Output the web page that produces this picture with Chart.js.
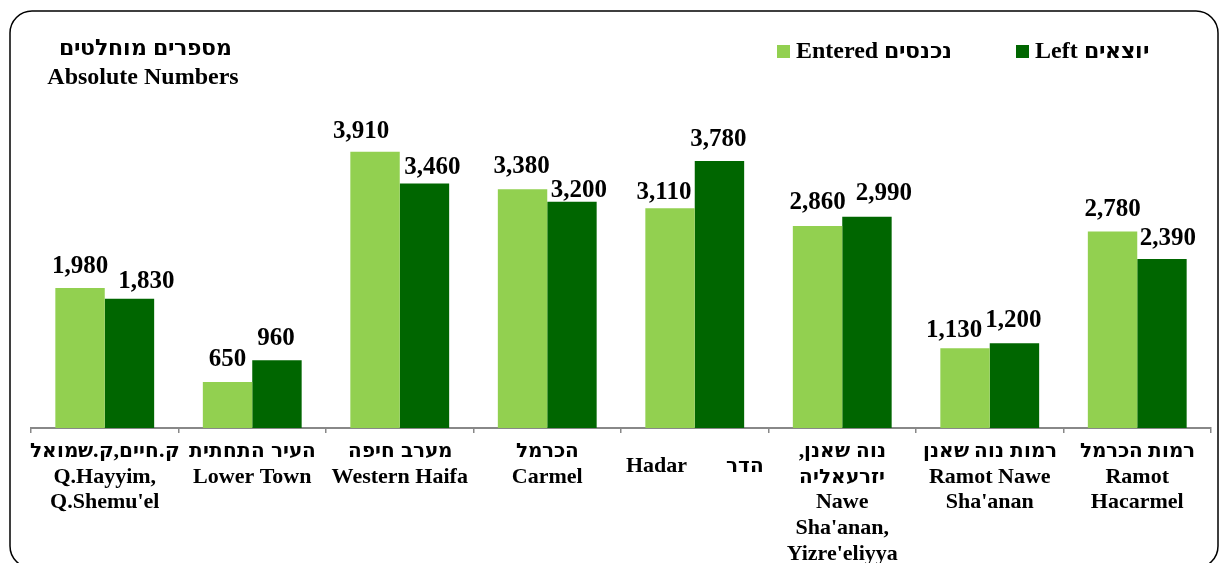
<!DOCTYPE html>
<html>
<head>
<meta charset="utf-8">
<script src="https://cdn.jsdelivr.net/npm/chart.js@4/dist/chart.umd.min.js"></script>
<style>
@font-face {
  font-family: 'HebBold';
  src: local('DejaVu Sans Bold'), local('DejaVuSans-Bold');
  font-weight: bold;
  unicode-range: U+0590-05FF, U+200F, U+FB1D-FB4F;
  size-adjust: 90%;
}
html,body{margin:0;padding:0;background:#fff;}
#wrap{position:relative;width:1220px;height:563px;}
</style>
</head>
<body>
<div id="wrap"><canvas id="c" width="1220" height="563"></canvas></div>
<script>
const categories = [
  ["ק.חיים,ק.שמואל", "Q.Hayyim,", "Q.Shemu'el"],
  ["העיר התחתית", "Lower Town"],
  ["מערב חיפה", "Western Haifa"],
  ["הכרמל", "Carmel"],
  ["Hadar       הדר"],
  ["נוה שאנן,\u200F", "יזרעאליה", "Nawe", "Sha'anan,", "Yizre'eliyya"],
  ["רמות נוה שאנן", "Ramot Nawe", "Sha'anan"],
  ["רמות הכרמל", "Ramot", "Hacarmel"]
];
const entered = [1980, 650, 3910, 3380, 3110, 2860, 1130, 2780];
const left = [1830, 960, 3460, 3200, 3780, 2990, 1200, 2390];
const seriesNames = ["Entered נכנסים", "Left יוצאים"];
const titleLines = ["מספרים מוחלטים", "Absolute Numbers"];

// value-label nudges (dx, height above bar top) as placed in the original
const labelNudgeX = [[0, 0, -14, -1, -6, 0, -11, 0], [17, -1, 8, 7, -1, 17, -1, 6]];
const labelNudgeY = [[23, 24, 22, 24, 17, 25, 19, 24], [19, 23, 17, 13, 23, 25, 24, 22]];

const SERIF = 'HebBold, "Liberation Serif", "Times New Roman", serif';
const LIGHT = '#92D050';
const DARK = '#006600';

const decor = {
  id: 'decor',
  afterDatasetsDraw(chart) {
    const ctx = chart.ctx;
    ctx.save();
    ctx.font = 'bold 25px ' + SERIF;
    ctx.fillStyle = '#000';
    ctx.textAlign = 'center';
    ctx.textBaseline = 'alphabetic';
    chart.data.datasets.forEach((ds, di) => {
      const meta = chart.getDatasetMeta(di);
      meta.data.forEach((bar, i) => {
        ctx.fillText(ds.data[i].toLocaleString('en-US'),
          bar.x + labelNudgeX[di][i], bar.y - labelNudgeY[di][i] + 8);
      });
    });
    ctx.restore();
  },
  afterDraw(chart) {
    const ctx = chart.ctx;
    ctx.save();
    ctx.strokeStyle = '#000';
    ctx.lineWidth = 1.5;
    ctx.beginPath();
    ctx.roundRect(10, 11, 1208, 557, 22);
    ctx.stroke();
    ctx.fillStyle = '#000';
    ctx.font = 'bold 24px ' + SERIF;
    ctx.textAlign = 'center';
    ctx.textBaseline = 'middle';
    ctx.fillText(titleLines[0], 145, 49);
    ctx.fillText(titleLines[1], 143, 78);
    const items = [[777, 796, LIGHT, seriesNames[0]], [1016, 1035, DARK, seriesNames[1]]];
    ctx.textAlign = 'left';
    items.forEach(([bx, tx, col, txt]) => {
      ctx.fillStyle = col;
      ctx.fillRect(bx, 45, 13, 13);
      ctx.fillStyle = '#000';
      ctx.fillText(txt, tx, 52);
    });
    ctx.restore();
  }
};

function build() {
  new Chart(document.getElementById('c'), {
    type: 'bar',
    data: {
      labels: categories,
      datasets: [
        { label: seriesNames[0], data: entered, backgroundColor: LIGHT, borderWidth: 0 },
        { label: seriesNames[1], data: left, backgroundColor: DARK, borderWidth: 0 }
      ]
    },
    options: {
      responsive: false,
      animation: false,
      devicePixelRatio: 1,
      layout: { padding: { left: 31, right: 9, top: 110, bottom: 0 } },
      plugins: { legend: { display: false }, tooltip: { enabled: false } },
      datasets: { bar: { categoryPercentage: 0.67, barPercentage: 1.0 } },
      scales: {
        x: {
          grid: { offset: true, drawOnChartArea: false, drawTicks: true, tickLength: 5, color: '#888', lineWidth: 1.5 },
          border: { display: true, color: '#888', width: 2 },
          ticks: {
            color: '#000',
            padding: 6,
            maxRotation: 0,
            autoSkip: false,
            font: (c) => ({ family: SERIF, size: 22, weight: 'bold', lineHeight: c.index === 4 ? 2.52 : 1.16 })
          },
          afterFit: (scale) => { scale.height = 135; }
        },
        y: { display: false, min: 0, max: 4500 }
      }
    },
    plugins: [decor]
  });
}

Promise.all([
  document.fonts.load('bold 24px HebBold', 'אבג'),
  document.fonts.load('bold 24px "Liberation Serif"', 'Abc')
]).then(build, build);
</script>
</body>
</html>
